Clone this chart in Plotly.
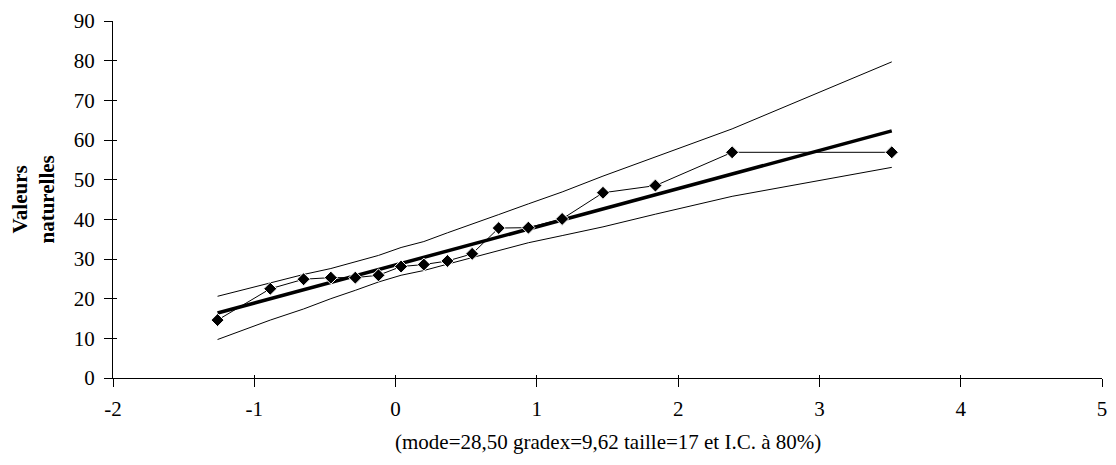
import plotly.graph_objects as go

# Reduced Gumbel variate (plotting positions)
u_vals = [-1.260, -0.887, -0.651, -0.458, -0.285, -0.121, 0.039, 0.200, 0.367,
          0.542, 0.730, 0.940, 1.179, 1.468, 1.839, 2.382, 3.512]
# Observed natural values
observed = [14.6, 22.5, 24.9, 25.3, 25.3, 25.9, 28.1, 28.6, 29.5,
            31.3, 37.8, 37.9, 40.1, 46.7, 48.5, 56.9, 56.9]
# Gumbel fit (mode=28.50, gradex=9.62)
fit = [16.38, 19.97, 22.24, 24.09, 25.76, 27.34, 28.88, 30.42, 32.03,
       33.71, 35.52, 37.54, 39.84, 42.62, 46.19, 51.41, 62.29]
# 80% confidence interval bounds
upper = [20.6, 24.0, 26.1, 27.6, 29.3, 30.9, 32.9, 34.4, 36.6,
         38.9, 41.2, 43.9, 46.9, 50.9, 55.8, 62.8, 79.7]
lower = [9.7, 14.6, 17.4, 20.0, 22.1, 24.2, 25.9, 27.1, 28.7,
         30.3, 32.2, 34.1, 35.9, 38.1, 41.3, 45.8, 53.1]

x_ticks = [-2, -1, 0, 1, 2, 3, 4, 5]
x_ticktext = ["-2", "-1", "0", "1", "2", "3", "4", "5"]
y_ticks = [0, 10, 20, 30, 40, 50, 60, 70, 80, 90]
x_title = "(mode=28,50 gradex=9,62 taille=17 et I.C. à 80%)"
y_title = "<b>Valeurs<br>naturelles</b>"

FONT = "Liberation Serif, Times New Roman, serif"
FS = 21

fig = go.Figure()
fig.add_trace(go.Scatter(x=u_vals, y=upper, mode="lines",
                         line=dict(color="black", width=1), showlegend=False))
fig.add_trace(go.Scatter(x=u_vals, y=lower, mode="lines",
                         line=dict(color="black", width=1), showlegend=False))
fig.add_trace(go.Scatter(x=u_vals, y=fit, mode="lines",
                         line=dict(color="black", width=3.5), showlegend=False))
fig.add_trace(go.Scatter(x=u_vals, y=observed, mode="lines+markers",
                         line=dict(color="black", width=1),
                         marker=dict(symbol="diamond", size=10, color="black",
                                     line=dict(color="white", width=1)),
                         showlegend=False))
# invisible trace to activate overlay axes (inner tick marks)
fig.add_trace(go.Scatter(x=u_vals, y=fit, mode="lines", opacity=0,
                         line=dict(width=0), xaxis="x2", yaxis="y2",
                         showlegend=False, hoverinfo="skip"))

axis_common = dict(showgrid=False, zeroline=False)
fig.update_layout(
    width=1116, height=465,
    margin=dict(l=113, r=9, t=20, b=87),
    paper_bgcolor="white", plot_bgcolor="white",
    font=dict(family=FONT, size=FS, color="black"),
    xaxis=dict(range=[-2, 5], tickvals=x_ticks, ticktext=x_ticktext,
               ticks="outside", ticklen=8, tickwidth=1, tickcolor="black",
               showline=True, linecolor="black", linewidth=1,
               ticklabeloverflow="allow", ticklabelstandoff=4,
               tickfont=dict(family=FONT, size=FS), **axis_common),
    yaxis=dict(range=[0, 90], tickvals=y_ticks, ticks="outside", ticklen=8,
               tickwidth=1, tickcolor="black", showline=True, linecolor="black",
               linewidth=1, ticklabelstandoff=5,
               tickfont=dict(family=FONT, size=FS), **axis_common),
    xaxis2=dict(range=[-2, 5], tickvals=x_ticks, ticks="inside", ticklen=3,
                tickwidth=1, tickcolor="black", showticklabels=False,
                overlaying="x", anchor="y", side="bottom", showline=False,
                **axis_common),
    yaxis2=dict(range=[0, 90], tickvals=y_ticks, ticks="inside", ticklen=4,
                tickwidth=1, tickcolor="black", showticklabels=False,
                overlaying="y", anchor="x", side="left", showline=False,
                **axis_common),
    annotations=[
        dict(text=x_title, xref="paper", yref="paper", x=0.5, y=0,
             yshift=-64, showarrow=False, xanchor="center", yanchor="middle",
             font=dict(family=FONT, size=FS)),
        dict(text=y_title, xref="paper", yref="paper", x=0, y=0.5,
             xshift=-80, showarrow=False, xanchor="center", yanchor="middle",
             textangle=-90, font=dict(family=FONT, size=FS)),
    ],
)

fig.write_html("out.html",
               config={"displayModeBar": False},
               post_script="document.body.style.margin='0';"
                           "document.body.style.overflow='hidden';")
